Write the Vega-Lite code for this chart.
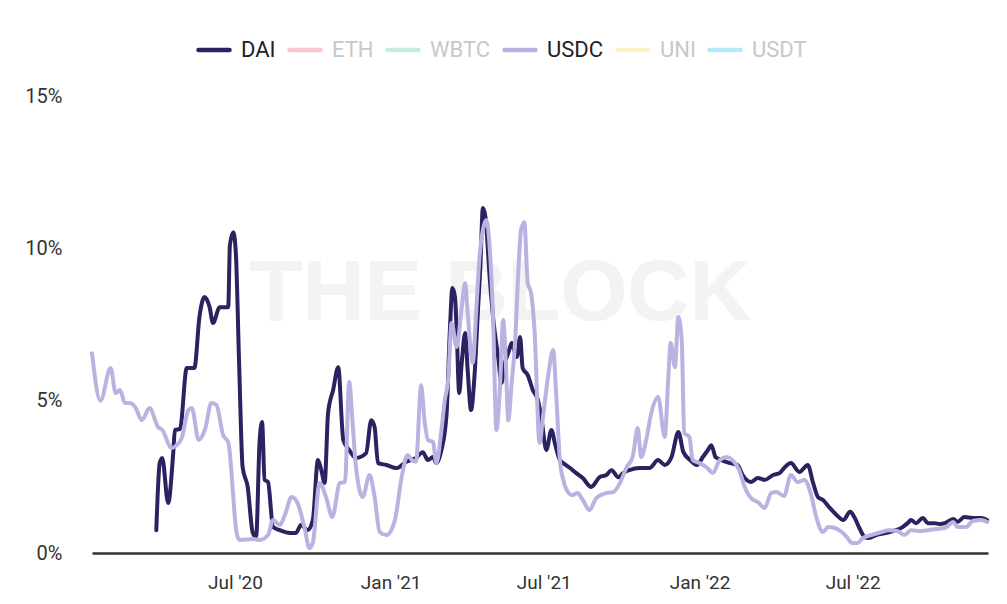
{
  "$schema": "https://vega.github.io/schema/vega-lite/v6.json",
  "width": 896,
  "height": 457,
  "autosize": "none",
  "padding": {"left": 92, "top": 96, "right": 19, "bottom": 51},
  "background": "white",
  "data": {
    "values": [
      {"s": "DAI", "d": "2020-03-30", "v": 0.75},
      {"s": "DAI", "d": "2020-04-03", "v": 2.95},
      {"s": "DAI", "d": "2020-04-06", "v": 3.12},
      {"s": "DAI", "d": "2020-04-13", "v": 1.64},
      {"s": "DAI", "d": "2020-04-19", "v": 3.28},
      {"s": "DAI", "d": "2020-04-21", "v": 4.04},
      {"s": "DAI", "d": "2020-04-27", "v": 4.07},
      {"s": "DAI", "d": "2020-05-05", "v": 6.07},
      {"s": "DAI", "d": "2020-05-14", "v": 6.07},
      {"s": "DAI", "d": "2020-05-20", "v": 7.75},
      {"s": "DAI", "d": "2020-05-26", "v": 8.40},
      {"s": "DAI", "d": "2020-06-01", "v": 8.07},
      {"s": "DAI", "d": "2020-06-05", "v": 7.55},
      {"s": "DAI", "d": "2020-06-13", "v": 8.07},
      {"s": "DAI", "d": "2020-06-23", "v": 8.07},
      {"s": "DAI", "d": "2020-06-25", "v": 10.11},
      {"s": "DAI", "d": "2020-06-29", "v": 10.53},
      {"s": "DAI", "d": "2020-07-02", "v": 9.85},
      {"s": "DAI", "d": "2020-07-06", "v": 6.10},
      {"s": "DAI", "d": "2020-07-10", "v": 2.82},
      {"s": "DAI", "d": "2020-07-16", "v": 2.17},
      {"s": "DAI", "d": "2020-07-22", "v": 0.66},
      {"s": "DAI", "d": "2020-07-26", "v": 0.53},
      {"s": "DAI", "d": "2020-07-30", "v": 3.61},
      {"s": "DAI", "d": "2020-08-02", "v": 4.30},
      {"s": "DAI", "d": "2020-08-05", "v": 2.40},
      {"s": "DAI", "d": "2020-08-09", "v": 2.33},
      {"s": "DAI", "d": "2020-08-15", "v": 0.85},
      {"s": "DAI", "d": "2020-08-23", "v": 0.75},
      {"s": "DAI", "d": "2020-09-04", "v": 0.66},
      {"s": "DAI", "d": "2020-09-11", "v": 0.66},
      {"s": "DAI", "d": "2020-09-17", "v": 0.92},
      {"s": "DAI", "d": "2020-09-25", "v": 0.75},
      {"s": "DAI", "d": "2020-10-01", "v": 1.08},
      {"s": "DAI", "d": "2020-10-07", "v": 3.05},
      {"s": "DAI", "d": "2020-10-11", "v": 2.72},
      {"s": "DAI", "d": "2020-10-15", "v": 2.30},
      {"s": "DAI", "d": "2020-10-19", "v": 4.59},
      {"s": "DAI", "d": "2020-10-25", "v": 5.35},
      {"s": "DAI", "d": "2020-10-31", "v": 6.10},
      {"s": "DAI", "d": "2020-11-06", "v": 3.71},
      {"s": "DAI", "d": "2020-11-13", "v": 3.38},
      {"s": "DAI", "d": "2020-11-21", "v": 3.12},
      {"s": "DAI", "d": "2020-12-03", "v": 3.28},
      {"s": "DAI", "d": "2020-12-09", "v": 4.36},
      {"s": "DAI", "d": "2020-12-13", "v": 4.14},
      {"s": "DAI", "d": "2020-12-17", "v": 2.95},
      {"s": "DAI", "d": "2020-12-27", "v": 2.89},
      {"s": "DAI", "d": "2021-01-08", "v": 2.79},
      {"s": "DAI", "d": "2021-01-19", "v": 2.99},
      {"s": "DAI", "d": "2021-01-31", "v": 3.12},
      {"s": "DAI", "d": "2021-02-08", "v": 3.31},
      {"s": "DAI", "d": "2021-02-14", "v": 3.05},
      {"s": "DAI", "d": "2021-02-20", "v": 3.15},
      {"s": "DAI", "d": "2021-02-24", "v": 2.95},
      {"s": "DAI", "d": "2021-03-02", "v": 3.38},
      {"s": "DAI", "d": "2021-03-08", "v": 4.53},
      {"s": "DAI", "d": "2021-03-12", "v": 7.32},
      {"s": "DAI", "d": "2021-03-15", "v": 8.70},
      {"s": "DAI", "d": "2021-03-18", "v": 8.40},
      {"s": "DAI", "d": "2021-03-20", "v": 7.32},
      {"s": "DAI", "d": "2021-03-23", "v": 5.25},
      {"s": "DAI", "d": "2021-03-26", "v": 6.24},
      {"s": "DAI", "d": "2021-03-30", "v": 7.22},
      {"s": "DAI", "d": "2021-04-02", "v": 6.01},
      {"s": "DAI", "d": "2021-04-06", "v": 4.69},
      {"s": "DAI", "d": "2021-04-10", "v": 5.78},
      {"s": "DAI", "d": "2021-04-14", "v": 7.88},
      {"s": "DAI", "d": "2021-04-17", "v": 9.39},
      {"s": "DAI", "d": "2021-04-20", "v": 11.32},
      {"s": "DAI", "d": "2021-04-23", "v": 11.03},
      {"s": "DAI", "d": "2021-04-28", "v": 9.06},
      {"s": "DAI", "d": "2021-05-02", "v": 7.75},
      {"s": "DAI", "d": "2021-05-08", "v": 6.43},
      {"s": "DAI", "d": "2021-05-12", "v": 5.58},
      {"s": "DAI", "d": "2021-05-16", "v": 6.24},
      {"s": "DAI", "d": "2021-05-20", "v": 6.56},
      {"s": "DAI", "d": "2021-05-24", "v": 6.89},
      {"s": "DAI", "d": "2021-05-30", "v": 6.43},
      {"s": "DAI", "d": "2021-06-03", "v": 7.09},
      {"s": "DAI", "d": "2021-06-06", "v": 6.07},
      {"s": "DAI", "d": "2021-06-12", "v": 5.84},
      {"s": "DAI", "d": "2021-06-18", "v": 5.35},
      {"s": "DAI", "d": "2021-06-24", "v": 5.02},
      {"s": "DAI", "d": "2021-06-28", "v": 4.46},
      {"s": "DAI", "d": "2021-07-04", "v": 3.38},
      {"s": "DAI", "d": "2021-07-10", "v": 4.04},
      {"s": "DAI", "d": "2021-07-14", "v": 3.61},
      {"s": "DAI", "d": "2021-07-20", "v": 3.05},
      {"s": "DAI", "d": "2021-07-24", "v": 2.95},
      {"s": "DAI", "d": "2021-08-01", "v": 2.79},
      {"s": "DAI", "d": "2021-08-08", "v": 2.63},
      {"s": "DAI", "d": "2021-08-16", "v": 2.46},
      {"s": "DAI", "d": "2021-08-26", "v": 2.17},
      {"s": "DAI", "d": "2021-09-05", "v": 2.49},
      {"s": "DAI", "d": "2021-09-13", "v": 2.56},
      {"s": "DAI", "d": "2021-09-19", "v": 2.72},
      {"s": "DAI", "d": "2021-09-27", "v": 2.49},
      {"s": "DAI", "d": "2021-10-03", "v": 2.63},
      {"s": "DAI", "d": "2021-10-10", "v": 2.72},
      {"s": "DAI", "d": "2021-10-22", "v": 2.79},
      {"s": "DAI", "d": "2021-11-03", "v": 2.79},
      {"s": "DAI", "d": "2021-11-13", "v": 3.05},
      {"s": "DAI", "d": "2021-11-21", "v": 2.89},
      {"s": "DAI", "d": "2021-11-29", "v": 3.15},
      {"s": "DAI", "d": "2021-12-07", "v": 3.97},
      {"s": "DAI", "d": "2021-12-13", "v": 3.31},
      {"s": "DAI", "d": "2021-12-21", "v": 3.05},
      {"s": "DAI", "d": "2021-12-29", "v": 2.89},
      {"s": "DAI", "d": "2022-01-05", "v": 3.15},
      {"s": "DAI", "d": "2022-01-11", "v": 3.38},
      {"s": "DAI", "d": "2022-01-15", "v": 3.54},
      {"s": "DAI", "d": "2022-01-20", "v": 3.15},
      {"s": "DAI", "d": "2022-01-27", "v": 3.05},
      {"s": "DAI", "d": "2022-02-06", "v": 2.95},
      {"s": "DAI", "d": "2022-02-15", "v": 2.89},
      {"s": "DAI", "d": "2022-02-21", "v": 2.56},
      {"s": "DAI", "d": "2022-03-03", "v": 2.33},
      {"s": "DAI", "d": "2022-03-11", "v": 2.46},
      {"s": "DAI", "d": "2022-03-19", "v": 2.40},
      {"s": "DAI", "d": "2022-03-29", "v": 2.56},
      {"s": "DAI", "d": "2022-04-06", "v": 2.63},
      {"s": "DAI", "d": "2022-04-11", "v": 2.79},
      {"s": "DAI", "d": "2022-04-19", "v": 2.95},
      {"s": "DAI", "d": "2022-04-29", "v": 2.66},
      {"s": "DAI", "d": "2022-05-09", "v": 2.89},
      {"s": "DAI", "d": "2022-05-15", "v": 2.33},
      {"s": "DAI", "d": "2022-05-21", "v": 1.84},
      {"s": "DAI", "d": "2022-05-27", "v": 1.74},
      {"s": "DAI", "d": "2022-06-04", "v": 1.48},
      {"s": "DAI", "d": "2022-06-12", "v": 1.25},
      {"s": "DAI", "d": "2022-06-20", "v": 1.08},
      {"s": "DAI", "d": "2022-06-28", "v": 1.35},
      {"s": "DAI", "d": "2022-07-03", "v": 1.18},
      {"s": "DAI", "d": "2022-07-09", "v": 0.82},
      {"s": "DAI", "d": "2022-07-15", "v": 0.53},
      {"s": "DAI", "d": "2022-07-19", "v": 0.49},
      {"s": "DAI", "d": "2022-07-29", "v": 0.59},
      {"s": "DAI", "d": "2022-08-10", "v": 0.66},
      {"s": "DAI", "d": "2022-08-21", "v": 0.75},
      {"s": "DAI", "d": "2022-08-29", "v": 0.85},
      {"s": "DAI", "d": "2022-09-04", "v": 0.98},
      {"s": "DAI", "d": "2022-09-08", "v": 1.08},
      {"s": "DAI", "d": "2022-09-14", "v": 0.98},
      {"s": "DAI", "d": "2022-09-22", "v": 1.15},
      {"s": "DAI", "d": "2022-09-28", "v": 0.98},
      {"s": "DAI", "d": "2022-10-06", "v": 0.98},
      {"s": "DAI", "d": "2022-10-12", "v": 0.95},
      {"s": "DAI", "d": "2022-10-18", "v": 0.98},
      {"s": "DAI", "d": "2022-10-28", "v": 1.12},
      {"s": "DAI", "d": "2022-11-02", "v": 1.02},
      {"s": "DAI", "d": "2022-11-10", "v": 1.18},
      {"s": "DAI", "d": "2022-11-20", "v": 1.15},
      {"s": "DAI", "d": "2022-11-30", "v": 1.15},
      {"s": "DAI", "d": "2022-12-07", "v": 1.08},
      {"s": "USDC", "d": "2020-01-14", "v": 6.56},
      {"s": "USDC", "d": "2020-01-24", "v": 5.00},
      {"s": "USDC", "d": "2020-02-05", "v": 6.07},
      {"s": "USDC", "d": "2020-02-11", "v": 5.25},
      {"s": "USDC", "d": "2020-02-16", "v": 5.35},
      {"s": "USDC", "d": "2020-02-22", "v": 4.92},
      {"s": "USDC", "d": "2020-02-28", "v": 4.92},
      {"s": "USDC", "d": "2020-03-05", "v": 4.79},
      {"s": "USDC", "d": "2020-03-13", "v": 4.36},
      {"s": "USDC", "d": "2020-03-22", "v": 4.76},
      {"s": "USDC", "d": "2020-04-01", "v": 4.14},
      {"s": "USDC", "d": "2020-04-06", "v": 4.04},
      {"s": "USDC", "d": "2020-04-17", "v": 3.45},
      {"s": "USDC", "d": "2020-04-23", "v": 3.54},
      {"s": "USDC", "d": "2020-04-29", "v": 3.77},
      {"s": "USDC", "d": "2020-05-07", "v": 4.69},
      {"s": "USDC", "d": "2020-05-11", "v": 4.76},
      {"s": "USDC", "d": "2020-05-19", "v": 3.71},
      {"s": "USDC", "d": "2020-05-27", "v": 4.10},
      {"s": "USDC", "d": "2020-06-03", "v": 4.92},
      {"s": "USDC", "d": "2020-06-09", "v": 4.86},
      {"s": "USDC", "d": "2020-06-17", "v": 3.87},
      {"s": "USDC", "d": "2020-06-23", "v": 3.64},
      {"s": "USDC", "d": "2020-07-03", "v": 0.66},
      {"s": "USDC", "d": "2020-07-06", "v": 0.43},
      {"s": "USDC", "d": "2020-07-23", "v": 0.46},
      {"s": "USDC", "d": "2020-07-30", "v": 0.43},
      {"s": "USDC", "d": "2020-08-09", "v": 0.59},
      {"s": "USDC", "d": "2020-08-15", "v": 1.08},
      {"s": "USDC", "d": "2020-08-23", "v": 0.92},
      {"s": "USDC", "d": "2020-08-29", "v": 1.25},
      {"s": "USDC", "d": "2020-09-06", "v": 1.84},
      {"s": "USDC", "d": "2020-09-13", "v": 1.64},
      {"s": "USDC", "d": "2020-09-21", "v": 0.85},
      {"s": "USDC", "d": "2020-09-27", "v": 0.16},
      {"s": "USDC", "d": "2020-10-01", "v": 0.33},
      {"s": "USDC", "d": "2020-10-09", "v": 2.30},
      {"s": "USDC", "d": "2020-10-17", "v": 1.80},
      {"s": "USDC", "d": "2020-10-24", "v": 1.18},
      {"s": "USDC", "d": "2020-11-02", "v": 2.30},
      {"s": "USDC", "d": "2020-11-08", "v": 2.33},
      {"s": "USDC", "d": "2020-11-13", "v": 5.61},
      {"s": "USDC", "d": "2020-11-17", "v": 4.27},
      {"s": "USDC", "d": "2020-11-21", "v": 2.82},
      {"s": "USDC", "d": "2020-11-29", "v": 1.84},
      {"s": "USDC", "d": "2020-12-07", "v": 2.56},
      {"s": "USDC", "d": "2020-12-13", "v": 1.84},
      {"s": "USDC", "d": "2020-12-19", "v": 0.69},
      {"s": "USDC", "d": "2020-12-27", "v": 0.59},
      {"s": "USDC", "d": "2021-01-06", "v": 1.08},
      {"s": "USDC", "d": "2021-01-14", "v": 2.49},
      {"s": "USDC", "d": "2021-01-21", "v": 3.22},
      {"s": "USDC", "d": "2021-01-26", "v": 3.05},
      {"s": "USDC", "d": "2021-01-31", "v": 3.00},
      {"s": "USDC", "d": "2021-02-06", "v": 5.51},
      {"s": "USDC", "d": "2021-02-10", "v": 4.36},
      {"s": "USDC", "d": "2021-02-14", "v": 3.71},
      {"s": "USDC", "d": "2021-02-20", "v": 3.64},
      {"s": "USDC", "d": "2021-02-24", "v": 2.95},
      {"s": "USDC", "d": "2021-03-02", "v": 4.04},
      {"s": "USDC", "d": "2021-03-06", "v": 5.02},
      {"s": "USDC", "d": "2021-03-10", "v": 5.68},
      {"s": "USDC", "d": "2021-03-14", "v": 7.55},
      {"s": "USDC", "d": "2021-03-20", "v": 6.76},
      {"s": "USDC", "d": "2021-03-26", "v": 8.07},
      {"s": "USDC", "d": "2021-03-30", "v": 8.86},
      {"s": "USDC", "d": "2021-04-02", "v": 7.88},
      {"s": "USDC", "d": "2021-04-08", "v": 6.24},
      {"s": "USDC", "d": "2021-04-12", "v": 7.88},
      {"s": "USDC", "d": "2021-04-16", "v": 9.71},
      {"s": "USDC", "d": "2021-04-20", "v": 10.60},
      {"s": "USDC", "d": "2021-04-24", "v": 10.93},
      {"s": "USDC", "d": "2021-04-28", "v": 10.04},
      {"s": "USDC", "d": "2021-05-02", "v": 7.75},
      {"s": "USDC", "d": "2021-05-06", "v": 4.04},
      {"s": "USDC", "d": "2021-05-10", "v": 5.35},
      {"s": "USDC", "d": "2021-05-14", "v": 7.65},
      {"s": "USDC", "d": "2021-05-17", "v": 6.33},
      {"s": "USDC", "d": "2021-05-20", "v": 4.36},
      {"s": "USDC", "d": "2021-05-24", "v": 5.58},
      {"s": "USDC", "d": "2021-05-28", "v": 6.89},
      {"s": "USDC", "d": "2021-06-01", "v": 9.29},
      {"s": "USDC", "d": "2021-06-04", "v": 10.60},
      {"s": "USDC", "d": "2021-06-08", "v": 10.86},
      {"s": "USDC", "d": "2021-06-12", "v": 8.86},
      {"s": "USDC", "d": "2021-06-16", "v": 8.53},
      {"s": "USDC", "d": "2021-06-20", "v": 7.32},
      {"s": "USDC", "d": "2021-06-26", "v": 3.61},
      {"s": "USDC", "d": "2021-06-30", "v": 4.46},
      {"s": "USDC", "d": "2021-07-06", "v": 5.78},
      {"s": "USDC", "d": "2021-07-12", "v": 6.66},
      {"s": "USDC", "d": "2021-07-16", "v": 5.02},
      {"s": "USDC", "d": "2021-07-20", "v": 3.05},
      {"s": "USDC", "d": "2021-07-24", "v": 2.40},
      {"s": "USDC", "d": "2021-07-28", "v": 2.07},
      {"s": "USDC", "d": "2021-08-04", "v": 1.90},
      {"s": "USDC", "d": "2021-08-10", "v": 1.97},
      {"s": "USDC", "d": "2021-08-16", "v": 1.74},
      {"s": "USDC", "d": "2021-08-24", "v": 1.41},
      {"s": "USDC", "d": "2021-09-01", "v": 1.80},
      {"s": "USDC", "d": "2021-09-13", "v": 1.97},
      {"s": "USDC", "d": "2021-09-21", "v": 2.00},
      {"s": "USDC", "d": "2021-09-29", "v": 2.30},
      {"s": "USDC", "d": "2021-10-07", "v": 2.82},
      {"s": "USDC", "d": "2021-10-14", "v": 3.15},
      {"s": "USDC", "d": "2021-10-20", "v": 4.10},
      {"s": "USDC", "d": "2021-10-24", "v": 3.15},
      {"s": "USDC", "d": "2021-10-30", "v": 3.71},
      {"s": "USDC", "d": "2021-11-05", "v": 4.59},
      {"s": "USDC", "d": "2021-11-13", "v": 5.12},
      {"s": "USDC", "d": "2021-11-21", "v": 3.81},
      {"s": "USDC", "d": "2021-11-25", "v": 5.68},
      {"s": "USDC", "d": "2021-11-28", "v": 6.89},
      {"s": "USDC", "d": "2021-12-03", "v": 6.10},
      {"s": "USDC", "d": "2021-12-07", "v": 7.75},
      {"s": "USDC", "d": "2021-12-11", "v": 6.99},
      {"s": "USDC", "d": "2021-12-14", "v": 3.94},
      {"s": "USDC", "d": "2021-12-20", "v": 3.81},
      {"s": "USDC", "d": "2021-12-24", "v": 3.05},
      {"s": "USDC", "d": "2022-01-01", "v": 2.95},
      {"s": "USDC", "d": "2022-01-09", "v": 2.82},
      {"s": "USDC", "d": "2022-01-17", "v": 2.63},
      {"s": "USDC", "d": "2022-01-25", "v": 3.05},
      {"s": "USDC", "d": "2022-02-02", "v": 3.15},
      {"s": "USDC", "d": "2022-02-09", "v": 3.05},
      {"s": "USDC", "d": "2022-02-17", "v": 2.72},
      {"s": "USDC", "d": "2022-02-23", "v": 2.20},
      {"s": "USDC", "d": "2022-03-03", "v": 1.80},
      {"s": "USDC", "d": "2022-03-11", "v": 1.67},
      {"s": "USDC", "d": "2022-03-19", "v": 1.48},
      {"s": "USDC", "d": "2022-03-27", "v": 1.97},
      {"s": "USDC", "d": "2022-04-02", "v": 2.00},
      {"s": "USDC", "d": "2022-04-11", "v": 1.87},
      {"s": "USDC", "d": "2022-04-19", "v": 2.56},
      {"s": "USDC", "d": "2022-04-27", "v": 2.33},
      {"s": "USDC", "d": "2022-05-05", "v": 2.40},
      {"s": "USDC", "d": "2022-05-13", "v": 1.90},
      {"s": "USDC", "d": "2022-05-19", "v": 1.18},
      {"s": "USDC", "d": "2022-05-27", "v": 0.69},
      {"s": "USDC", "d": "2022-06-02", "v": 0.85},
      {"s": "USDC", "d": "2022-06-10", "v": 0.82},
      {"s": "USDC", "d": "2022-06-18", "v": 0.69},
      {"s": "USDC", "d": "2022-06-24", "v": 0.53},
      {"s": "USDC", "d": "2022-06-30", "v": 0.33},
      {"s": "USDC", "d": "2022-07-07", "v": 0.33},
      {"s": "USDC", "d": "2022-07-13", "v": 0.49},
      {"s": "USDC", "d": "2022-07-23", "v": 0.59},
      {"s": "USDC", "d": "2022-08-04", "v": 0.69},
      {"s": "USDC", "d": "2022-08-13", "v": 0.75},
      {"s": "USDC", "d": "2022-08-23", "v": 0.72},
      {"s": "USDC", "d": "2022-08-31", "v": 0.59},
      {"s": "USDC", "d": "2022-09-08", "v": 0.75},
      {"s": "USDC", "d": "2022-09-18", "v": 0.72},
      {"s": "USDC", "d": "2022-09-28", "v": 0.75},
      {"s": "USDC", "d": "2022-10-08", "v": 0.79},
      {"s": "USDC", "d": "2022-10-18", "v": 0.82},
      {"s": "USDC", "d": "2022-10-28", "v": 1.02},
      {"s": "USDC", "d": "2022-11-02", "v": 0.85},
      {"s": "USDC", "d": "2022-11-12", "v": 0.85},
      {"s": "USDC", "d": "2022-11-20", "v": 1.05},
      {"s": "USDC", "d": "2022-11-30", "v": 1.08},
      {"s": "USDC", "d": "2022-12-07", "v": 1.02}
    ]
  },
  "layer": [
    {
      "mark": {"type": "text", "text": "THE BLOCK", "font": "Liberation Sans", "fontWeight": "bold", "fontSize": 86, "color": "#f3f3f3", "align": "center", "baseline": "alphabetic"},
      "encoding": {
        "x": {"datum": {"year": 2021, "month": 5, "date": 11}, "type": "temporal"},
        "y": {"datum": 7.65, "type": "quantitative"}
      }
    },
    {
      "mark": {"type": "line", "strokeWidth": 4, "interpolate": "monotone", "strokeCap": "round", "strokeJoin": "round"},
      "encoding": {
        "x": {
          "field": "d",
          "type": "temporal",
          "title": null,
          "scale": {"domain": [{"year": 2020, "month": 1, "date": 14}, {"year": 2022, "month": 12, "date": 8}], "nice": false},
          "axis": {
            "values": [
              {"year": 2020, "month": 7, "date": 1},
              {"year": 2021, "month": 1, "date": 1},
              {"year": 2021, "month": 7, "date": 1},
              {"year": 2022, "month": 1, "date": 1},
              {"year": 2022, "month": 7, "date": 1}
            ],
            "format": "%b '%y",
            "grid": false,
            "ticks": false,
            "domainColor": "#333333",
            "domainWidth": 2.5,
            "labelFontSize": 19,
            "labelColor": "#333333",
            "labelPadding": 20
          }
        },
        "y": {
          "field": "v",
          "type": "quantitative",
          "title": null,
          "scale": {"domain": [0, 15], "nice": false},
          "axis": {
            "values": [0, 5, 10, 15],
            "labelExpr": "datum.value + '%'",
            "domain": false,
            "ticks": false,
            "gridColor": "#ebebeb",
            "gridWidth": 1.5,
            "labelFontSize": 20,
            "labelColor": "#333333",
            "labelPadding": 30
          }
        },
        "color": {
          "field": "s",
          "type": "nominal",
          "scale": {
            "domain": ["DAI", "ETH", "WBTC", "USDC", "UNI", "USDT"],
            "range": ["#2a2361", "#f9c5cf", "#c3ece5", "#b9b3e1", "#fdf3c5", "#b3e9f8"]
          },
          "legend": {
            "title": null,
            "orient": "none",
            "direction": "horizontal",
            "legendX": 104,
            "legendY": -64,
            "symbolType": "stroke",
            "symbolSize": 961,
            "symbolStrokeWidth": 4.5,
            "labelFontSize": 22,
            "labelOffset": 9,
            "columnPadding": 4,
            "encode": {
              "labels": {
                "update": {
                  "fill": {"signal": "indexof(['DAI', 'USDC'], datum.label) >= 0 ? '#222222' : '#c8c8c8'"}
                }
              },
              "symbols": {
                "update": {"strokeCap": {"value": "round"}}
              }
            }
          }
        }
      }
    }
  ],
  "config": {
    "view": {"stroke": null},
    "font": "Roboto, sans-serif",
    "axis": {"labelFont": "Roboto, sans-serif"},
    "legend": {"labelFont": "Roboto, sans-serif"}
  }
}
